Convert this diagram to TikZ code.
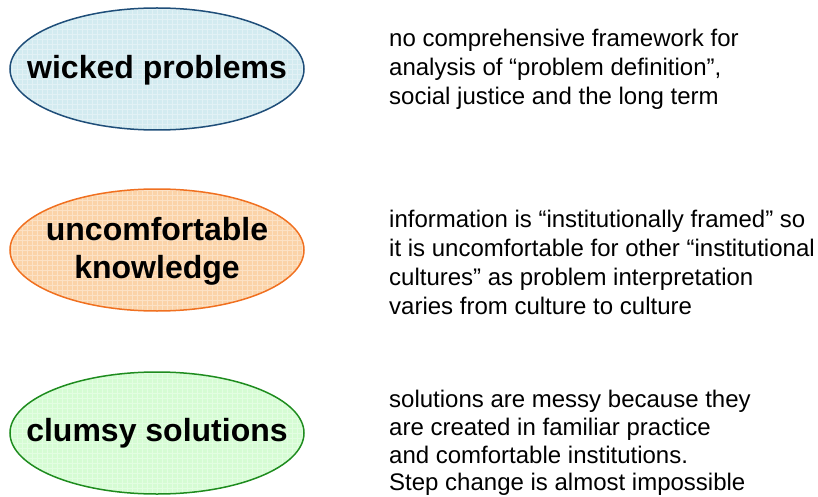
\documentclass[tikz,border=0pt]{standalone}
\usepackage{fontspec}
\setmainfont{Liberation Sans}
\definecolor{bfill}{HTML}{D3EBF0}
\definecolor{bline}{HTML}{1F4E79}
\definecolor{ofill}{HTML}{FBD3A8}
\definecolor{oline}{HTML}{F07020}
\definecolor{gfill}{HTML}{D5FCD3}
\definecolor{gline}{HTML}{1E8C1E}
\tikzset{
  blobtext/.style={align=center, inner sep=0pt, font=\fontsize{32}{38}\selectfont\bfseries},
  descline/.style={anchor=base west, inner sep=0pt, font=\fontsize{24}{29}\selectfont},
  gridlines/.style={white, opacity=0.35, line width=0.4pt},
}
\begin{document}
\begin{tikzpicture}[x=1pt,y=-1pt]
\useasboundingbox (0,0) rectangle (818,497);
\foreach \cy/\fc/\lc in {69/bfill/bline,250/ofill/oline,433/gfill/gline}{
  \fill[\fc] (157,\cy) ellipse (147pt and 61pt);
  \begin{scope}
    \clip (157,\cy) ellipse (147pt and 61pt);
    \draw[gridlines, step=5pt, shift={(157,\cy)}] (-150,-65) grid (150,65);
  \end{scope}
  \draw[\lc, line width=1.5pt] (157,\cy) ellipse (147pt and 61pt);
}
\node[blobtext] (wp) at (157,70) {wicked problems};
\node[blobtext] (uk) at (157,251) {uncomfortable\\knowledge};
\node[blobtext] (cs) at (157,433) {clumsy solutions};
\node[descline] (t1a) at (389,46.5) {no comprehensive framework for};
\node[descline] (t1b) at (389,76) {analysis of “problem definition”,};
\node[descline] (t1c) at (389,105) {social justice and the long term};
\node[descline] (t2a) at (389,227) {information is “institutionally framed” so};
\node[descline] (t2b) at (389,256) {it is uncomfortable for other “institutional};
\node[descline] (t2c) at (389,285) {cultures” as problem interpretation};
\node[descline] (t2d) at (389,314) {varies from culture to culture};
\node[descline] (t3a) at (389,407) {solutions are messy because they};
\node[descline] (t3b) at (389,435) {are created in familiar practice};
\node[descline] (t3c) at (389,463) {and comfortable institutions.};
\node[descline] (t3d) at (389,490.5) {Step change is almost impossible};
\end{tikzpicture}
\end{document}
